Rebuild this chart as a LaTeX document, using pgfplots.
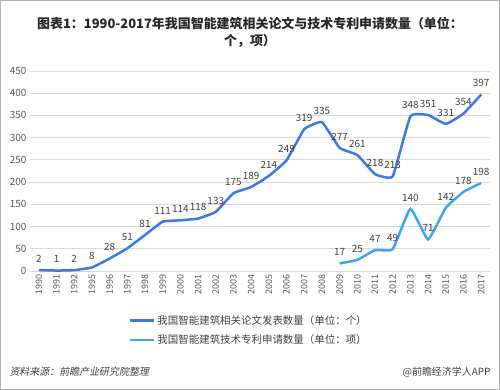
\documentclass[border=0pt]{standalone}
\usepackage{pgfplots}
\pgfplotsset{compat=1.18}
\usepackage{fontspec}
\setmainfont{Noto Sans CJK SC}
\newfontfamily\cjkit[FakeSlant=0.2]{Noto Sans CJK SC}
\definecolor{darkser}{RGB}{58,122,226}
\definecolor{lightser}{RGB}{66,163,242}
\definecolor{gridc}{RGB}{217,217,217}
\definecolor{tickc}{RGB}{89,89,89}
\definecolor{txtc}{RGB}{64,64,64}
\begin{document}
\begin{tikzpicture}
\useasboundingbox (0bp,0bp) rectangle (500bp,390bp);
\draw[gray!60, line width=1bp] (0.5bp,0.5bp) rectangle (499.5bp,389.5bp);
\node[font=\bfseries\fontsize{13}{17}\selectfont, align=center, text=black!85] at (250bp,358bp) {图表1：1990-2017年我国智能建筑相关论文与技术专利申请数量（单位：\\个，项）};
\begin{axis}[
  at={(30bp,119bp)}, anchor=south west,
  width=460bp, height=200bp, scale only axis,
  xmin=-0.5, xmax=25.5, ymin=0, ymax=450,
  ytick={0,50,...,450},
  xtick={0,...,25},
  xticklabels={1990,1991,1992,1995,1996,1997,1998,1999,2000,2001,2002,2003,2004,2005,2006,2007,2008,2009,2010,2011,2012,2013,2014,2015,2016,2017},
  x tick label style={rotate=90, anchor=east, font=\fontsize{9}{10}\selectfont, text=tickc},
  y tick label style={font=\fontsize{10}{11}\selectfont, text=tickc},
  /pgf/number format/assume math mode=true,
  ymajorgrids, grid style={gridc, line width=0.8bp},
  axis x line*=bottom, axis y line*=left,
  x axis line style={gridc, line width=0.8bp},
  y axis line style={draw=none},
  major tick length=0pt,
  xtick style={draw=none}, ytick style={draw=none},
  clip=false,
  nodes near coords,
  every node near coord/.append style={font=\fontsize{10}{11}\selectfont, text=txtc, anchor=south, yshift=3bp},
  legend style={at={(0.208,-0.20)}, anchor=north west, draw=none, fill=none,
    font=\fontsize{10.5}{12}\selectfont, text=txtc, row sep=5bp,
    legend cell align=left},
  legend image code/.code={\draw[#1, line width=2.6bp] (0bp,0bp) -- (24bp,0bp);},
]
\addplot[darkser, line width=2.5bp, smooth, tension=0.22] coordinates {
(0,2)(1,1)(2,2)(3,8)(4,28)(5,51)(6,81)(7,111)(8,114)(9,118)(10,133)(11,175)(12,189)(13,214)(14,249)(15,319)(16,335)(17,277)(18,261)(19,218)(20,213)(21,348)(22,351)(23,331)(24,354)(25,397)};
\addlegendentry{我国智能建筑相关论文发表数量（单位：个）}
\addplot[lightser, line width=2.5bp, smooth, tension=0.22] coordinates {
(17,17)(18,25)(19,47)(20,49)(21,140)(22,71)(23,142)(24,178)(25,198)};
\addlegendentry{我国智能建筑技术专利申请数量（单位：项）}
\end{axis}
\node[anchor=west, font=\cjkit\fontsize{10}{11}\selectfont, text=txtc] at (6bp,18bp) {资料来源：前瞻产业研究院整理};
\node[anchor=east, font=\fontsize{10}{11}\selectfont, text=txtc] at (494bp,18bp) {@前瞻经济学人APP};
\end{tikzpicture}
\end{document}
